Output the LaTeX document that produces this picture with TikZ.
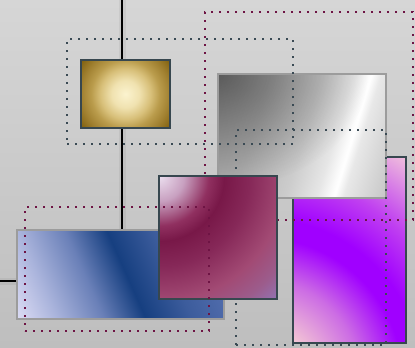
\documentclass[tikz,border=0pt]{standalone}
\usetikzlibrary{fadings}
\definecolor{slate}{HTML}{37474F}
\definecolor{dotmaroon}{HTML}{6E1444}
\definecolor{dotgray}{HTML}{3A4A54}
\definecolor{lightborder}{HTML}{9C9C9C}
\definecolor{bgtop}{HTML}{D6D6D6}
\definecolor{bgbot}{HTML}{BEBEBE}
% gold
\definecolor{g0}{HTML}{FBF3CF}\definecolor{g1}{HTML}{F0E2B0}\definecolor{g2}{HTML}{D8C07A}
\definecolor{g3}{HTML}{BA9C4C}\definecolor{g4}{HTML}{A08030}\definecolor{g5}{HTML}{7C5C0A}
% maroon
\definecolor{m0}{HTML}{ECE0F0}\definecolor{m1}{HTML}{C8A0C0}\definecolor{m2}{HTML}{903060}
\definecolor{m3}{HTML}{781848}\definecolor{m4}{HTML}{862858}\definecolor{m5}{HTML}{A24A74}
\definecolor{m6}{HTML}{9C5C8C}\definecolor{m7}{HTML}{9078BC}
% purple
\definecolor{p0}{HTML}{F4C8D4}\definecolor{p1}{HTML}{CC6CE4}\definecolor{p2}{HTML}{A000FF}
\definecolor{p3}{HTML}{C040F0}\definecolor{p4}{HTML}{F0C0DC}
% blue
\definecolor{b0}{HTML}{DCDCF4}\definecolor{b1}{HTML}{AAB4DC}\definecolor{b2}{HTML}{6A80B8}
\definecolor{b3}{HTML}{163F80}\definecolor{b4}{HTML}{3C5C9C}\definecolor{b5}{HTML}{6078B8}
% gray
\definecolor{s0}{HTML}{A6A6A6}\definecolor{s1}{HTML}{B2B2B2}\definecolor{s2}{HTML}{CCCCCC}
\definecolor{s3}{HTML}{E6E6E6}\definecolor{s4}{HTML}{FAFAFA}\definecolor{s5}{HTML}{FFFFFF}
\definecolor{s6}{HTML}{E8E8E8}\definecolor{s7}{HTML}{C6C6C6}

\pgfdeclareradialshading{goldsh}{\pgfpointorigin}{color(0bp)=(g0); color(6bp)=(g1); color(11bp)=(g2); color(15bp)=(g3); color(19.5bp)=(g4); color(25bp)=(g5); color(50bp)=(g5)}
\pgfdeclareradialshading{maroonsh}{\pgfpointorigin}{color(0bp)=(m0); color(3.6bp)=(m1); color(7.1bp)=(m2); color(9.3bp)=(m3); color(12.9bp)=(m4); color(17.9bp)=(m5); color(21.4bp)=(m6); color(25bp)=(m7); color(50bp)=(m7)}
\pgfdeclareradialshading{purplesh}{\pgfpointorigin}{color(0bp)=(p0); color(4.6bp)=(p0); color(9.3bp)=(p1); color(13.2bp)=(p2); color(15bp)=(p2); color(19bp)=(p3); color(24.7bp)=(p4); color(50bp)=(p4)}
\pgfdeclarehorizontalshading{bluesh}{100bp}{color(0bp)=(b0); color(25bp)=(b0); color(33.1bp)=(b1); color(42.6bp)=(b2); color(51bp)=(b3); color(60.2bp)=(b4); color(75bp)=(b5); color(100bp)=(b5)}
\pgfdeclarehorizontalshading{graysh}{100bp}{color(0bp)=(s0); color(25bp)=(s0); color(37.7bp)=(s1); color(50.4bp)=(s2); color(58bp)=(s3); color(61.3bp)=(s4); color(62.3bp)=(s5); color(64.6bp)=(s6); color(75bp)=(s7); color(100bp)=(s7)}
\tikzfading[name=tlfade, inner color=transparent!55, outer color=transparent!100]

\pgfdeclarelayer{back}
\pgfdeclarelayer{wires}
\pgfsetlayers{back,wires,main}

\tikzset{
  boxbase/.style={inner sep=0pt, outer sep=0pt, anchor=north west, line width=2pt},
  darkbox/.style={boxbase, draw=slate},
  lightbox/.style={boxbase, draw=lightborder},
  dotbase/.style={inner sep=0pt, outer sep=0pt, anchor=north west, line width=2pt, dash pattern=on 2pt off 6pt},
  maroondots/.style={dotbase, draw=dotmaroon},
  graydots/.style={dotbase, draw=dotgray},
  wire/.style={draw=black, line width=2pt},
  wireshadow/.style={draw=black, line width=7pt, opacity=0.05},
}

\begin{document}
\begin{tikzpicture}[x=1pt,y=-1pt]
\useasboundingbox (0,0) rectangle (415,348);
\begin{pgfonlayer}{back}
\shade[top color=bgtop, bottom color=bgbot] (0,0) rectangle (415,348);
\end{pgfonlayer}

% gold box
\begin{scope}
\clip (81,60) rectangle (170,128);
\shade[shading=goldsh] (125.5,94) circle (57);
\end{scope}
\node[darkbox, minimum width=89pt, minimum height=68pt] (gold) at (81,60) {};

% purple box
\begin{scope}
\clip (293,157) rectangle (406,343);
\shade[shading=purplesh] (260,380) circle (270);
\end{scope}
\node[darkbox, minimum width=113pt, minimum height=186pt] (purple) at (293,157) {};

% gray box
\begin{scope}
\clip (218,74) rectangle (386,198);
\begin{scope}[transform canvas={rotate around={-17:(218,74)}}]
\shade[shading=graysh] (218,0) rectangle (415,220);
\end{scope}
\fill[black, path fading=tlfade] (218,74) ellipse (150 and 115);
\end{scope}
\node[lightbox, minimum width=168pt, minimum height=124pt] (gray) at (218,74) {};

% blue box
\begin{scope}
\clip (16.7,230) rectangle (224,319);
\begin{scope}[transform canvas={rotate around={24:(16.7,319)}}]
\shade[shading=bluesh] (16.7,200) rectangle (243.7,420);
\end{scope}
\end{scope}
\node[lightbox, minimum width=207.3pt, minimum height=89pt] (blue) at (16.7,230) {};

% dotted frames under the maroon box
\node[graydots, minimum width=226pt, minimum height=105pt] (golddots) at (67,39) {};
\node[maroondots, minimum width=208pt, minimum height=208pt] (bigdots) at (205,12) {};
\node[graydots, minimum width=150pt, minimum height=215pt] (graydots2) at (236,130) {};

% maroon box
\begin{scope}
\clip (159,176) rectangle (277,299);
\shade[shading=maroonsh] (159,176) circle (175);
\end{scope}
\node[darkbox, minimum width=118pt, minimum height=123pt] (maroon) at (159,176) {};

% small dotted frame on top
\node[maroondots, minimum width=184pt, minimum height=124pt] (smalldots) at (25,207) {};

% connectors
\coordinate (topend) at (122,0);
\coordinate (leftend) at (0,281);
\begin{pgfonlayer}{wires}
\draw[wireshadow] (topend) -- (topend |- blue.north);
\draw[wireshadow] (leftend) -- (leftend -| blue.west);
\draw[wire] (topend) -- (topend |- blue.north);
\draw[wire] (leftend) -- (leftend -| blue.west);
\end{pgfonlayer}
\end{tikzpicture}
\end{document}
